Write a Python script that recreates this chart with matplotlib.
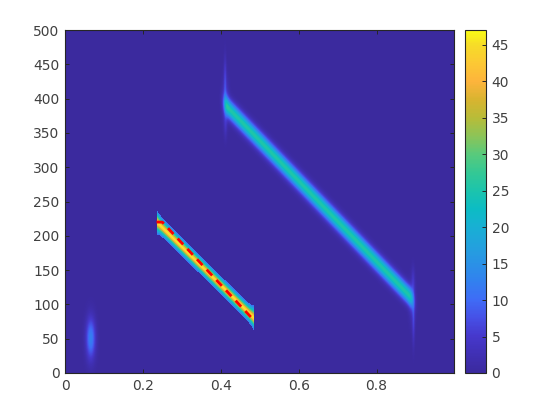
"""carte de densite avec deux rayures, une tache et la droite rouge en pointilles"""

import matplotlib
matplotlib.use("Agg")
import matplotlib.pyplot as plt
import numpy as np
from matplotlib.colors import LinearSegmentedColormap

# valeurs
x_ticks = [0, 0.2, 0.4, 0.6, 0.8]
x_labels = ["0", "0.2", "0.4", "0.6", "0.8"]
y_ticks = [0, 50, 100, 150, 200, 250, 300, 350, 400, 450, 500]
cb_ticks = [0, 5, 10, 15, 20, 25, 30, 35, 40, 45]

ridge1_x = [0.235, 0.485]
ridge1_y = [220, 80]
ridge1_peak = 46
ridge1_width = 10.5
ridge1_cut = 10.5

ridge2_x = [0.41, 0.893]
ridge2_y = [392, 108]
ridge2_peak = 25.5
ridge2_sigma = 9.5

# x, y, sigma x, sigma y, hauteur
blobs_x = [0.065, 0.412, 0.411, 0.412, 0.893, 0.896, 0.895]
blobs_y = [50, 398, 430, 362, 104, 75, 135]
blobs_sx = [0.0085, 0.006, 0.0025, 0.003, 0.006, 0.0025, 0.003]
blobs_sy = [21, 22, 22, 14, 22, 24, 14]
blobs_h = [12.5, 5, 5, 3, 4, 5, 3]

line_x = [0.235, 0.25, 0.48]
line_y = [220, 220, 80]

cmap_levels = [0, 2.5, 5, 7.5, 10, 12.5, 15, 17.5, 20, 22.5, 25, 27.5, 30, 32.5, 35, 37.5, 40, 42.5, 45, 47]
cmap_colors = ["#3b2a9e", "#4030b4", "#4638cc", "#4650e6", "#3f6cf6", "#3280ef", "#2a92e6",
               "#22a2dd", "#18b0d4", "#0cbcc4", "#1cc4ac", "#34c894", "#58ca7c", "#8cc458",
               "#b8bc38", "#d8b430", "#fdb43c", "#fcc834", "#f6dc28", "#f9fb15"]
vmax = 47


def ridge(X, Y, xs, ys, sigma):
    """distance verticale au segment, normee par sigma"""
    pente = (ys[1] - ys[0]) / (xs[1] - xs[0])
    yc = ys[0] + pente * (X - xs[0])
    return np.abs(Y - yc) / sigma


x = np.linspace(0, 0.999, 389)
y = np.linspace(0, 500, 343)
X, Y = np.meshgrid(x, y)

# la premiere bande s'evase a ses deux bouts
bout = np.exp(-(X - ridge1_x[0]) / 0.008) + np.exp(-(ridge1_x[1] - X) / 0.008)
Z1 = ridge1_peak * np.exp(-ridge(X, Y, ridge1_x, ridge1_y, ridge1_width * (1 + 0.35 * bout)) ** 1.5)
Z1[Z1 < ridge1_cut] = 0
Z1[(X < ridge1_x[0]) | (X > ridge1_x[1])] = 0

env = 1 / (1 + np.exp(-(X - ridge2_x[0]) / 0.003)) / (1 + np.exp((X - ridge2_x[1]) / 0.003))
Z2 = ridge2_peak * env * np.exp(-ridge(X, Y, ridge2_x, ridge2_y, ridge2_sigma) ** 2 / 2)
Z = Z1 + Z2
for bx, by, sx, sy, h in zip(blobs_x, blobs_y, blobs_sx, blobs_sy, blobs_h):
    Z = Z + h * np.exp(-(X - bx) ** 2 / (2 * sx ** 2) - (Y - by) ** 2 / (2 * sy ** 2))

pos = [v / vmax for v in cmap_levels]
cmap = LinearSegmentedColormap.from_list("octave", list(zip(pos, cmap_colors)), N=256)

txt = "#262626"
fig = plt.figure(figsize=(5.6, 4.2), dpi=100)
ax = fig.add_axes([65 / 560, 1 - 373 / 420, 389 / 560, 343 / 420])
im = ax.pcolormesh(x, y, Z, cmap=cmap, vmin=0, vmax=vmax, shading="nearest", rasterized=True)
ax.plot(line_x, line_y, color="#ff0000", linewidth=2.0, linestyle=(0, (2.9, 2.2)))
ax.set_xlim(0, 0.999)
ax.set_ylim(0, 500)
ax.set_xticks(x_ticks)
ax.set_xticklabels(x_labels)
ax.set_yticks(y_ticks)
ax.tick_params(direction="in", length=3, width=0.7, top=True, right=True, labelsize=10,
               labelcolor="#404040", color=txt, pad=4)

cax = fig.add_axes([465 / 560, 1 - 373 / 420, 21 / 560, 343 / 420])
cb = fig.colorbar(im, cax=cax)
cb.set_ticks(cb_ticks)
cb.ax.tick_params(direction="in", length=3, width=0.7, labelsize=10,
                  labelcolor="#404040", color=txt, pad=4)

for a in (ax, cax):
    for s in a.spines.values():
        s.set_linewidth(0.8)
        s.set_color(txt)

fig.savefig("out.png", dpi=100)
